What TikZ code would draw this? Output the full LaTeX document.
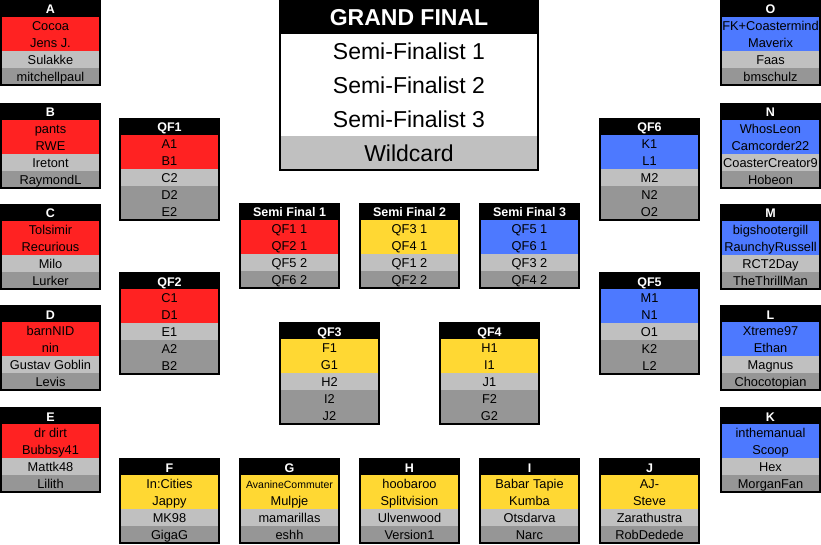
\documentclass[tikz,border=0pt]{standalone}
\usepackage{fontspec}
\setmainfont{Liberation Sans}
\usepackage{xcolor}

\definecolor{tred}{RGB}{255,34,34}
\definecolor{tyellow}{RGB}{255,216,51}
\definecolor{tblue}{RGB}{77,121,255}
\definecolor{lgrey}{RGB}{192,192,192}
\definecolor{dgrey}{RGB}{150,150,150}

\tikzset{
  boxline/.style={draw=black, line width=1.6pt},
  headtxt/.style={anchor=base, inner sep=0pt, text=white, font=\fontsize{12.5}{12.5}\selectfont\bfseries},
  rowtxt/.style={anchor=base, inner sep=0pt, text=black, font=\fontsize{12.8}{12.8}\selectfont},
  gftxt/.style={anchor=base, inner sep=0pt, font=\fontsize{23}{23}\selectfont}
}
\newcommand{\shrink}[1]{{\fontsize{10.5}{10.5}\selectfont #1}}

% group box: name, position, title, colour, four rows
\newcommand{\teambox}[8]{%
  \begin{scope}[shift={(#2)}]
    \fill[black] (0,0) rectangle (101,17);
    \fill[#4] (0,17) rectangle (101,51);
    \fill[lgrey] (0,51) rectangle (101,68);
    \fill[dgrey] (0,68) rectangle (101,85);
    \draw[boxline] (0.8,0.8) rectangle (100.2,85.2);
    \node[headtxt] (#1-h) at (50.5,14) {#3};
    \node[rowtxt] (#1-1) at (50.5,30.2) {#5};
    \node[rowtxt] (#1-2) at (50.5,47.2) {#6};
    \node[rowtxt] (#1-3) at (50.5,64.2) {#7};
    \node[rowtxt] (#1-4) at (50.5,81.2) {#8};
  \end{scope}}

% quarter final box: name, position, title, colour, five rows
\newcommand{\qfbox}[9]{%
  \begin{scope}[shift={(#2)}]
    \fill[black] (0,0) rectangle (101,17);
    \fill[#4] (0,17) rectangle (101,51);
    \fill[lgrey] (0,51) rectangle (101,68);
    \fill[dgrey] (0,68) rectangle (101,102);
    \draw[boxline] (0.8,0.8) rectangle (100.2,102.2);
    \node[headtxt] (#1-h) at (50.5,14) {#3};
    \node[rowtxt] (#1-1) at (50.5,30.2) {#5};
    \node[rowtxt] (#1-2) at (50.5,47.2) {#6};
    \node[rowtxt] (#1-3) at (50.5,64.2) {#7};
    \node[rowtxt] (#1-4) at (50.5,81.2) {#8};
    \node[rowtxt] (#1-5) at (50.5,98.2) {#9};
  \end{scope}}

\begin{document}
\begin{tikzpicture}[x=1pt, y=-1pt]
\useasboundingbox (0,0) rectangle (821,545);

% grand final
\fill[black] (279,0) rectangle (539,34);
\fill[white] (279,34) rectangle (539,136);
\fill[lgrey] (279,136) rectangle (539,170);
\draw[boxline] (279.8,0.8) rectangle (538.2,170.2);
\node[gftxt, text=white, font=\fontsize{23}{23}\selectfont\bfseries] (gf-h) at (409,25.5) {GRAND FINAL};
\node[gftxt] (gf-1) at (409,59.5) {Semi-Finalist 1};
\node[gftxt] (gf-2) at (409,93.5) {Semi-Finalist 2};
\node[gftxt] (gf-3) at (409,127.5) {Semi-Finalist 3};
\node[gftxt] (gf-4) at (409,161.5) {Wildcard};

% left column
\teambox{A}{0,0}{A}{tred}{Cocoa}{Jens J.}{Sulakke}{mitchellpaul}
\teambox{B}{0,103}{B}{tred}{pants}{RWE}{Iretont}{RaymondL}
\teambox{C}{0,204}{C}{tred}{Tolsimir}{Recurious}{Milo}{Lurker}
\teambox{D}{0,305}{D}{tred}{barnNID}{nin}{Gustav Goblin}{Levis}
\teambox{E}{0,407}{E}{tred}{dr dirt}{Bubbsy41}{Mattk48}{Lilith}

% bottom row
\teambox{F}{119,458}{F}{tyellow}{In:Cities}{Jappy}{MK98}{GigaG}
\teambox{G}{239,458}{G}{tyellow}{\shrink{AvanineCommuter}}{Mulpje}{mamarillas}{eshh}
\teambox{H}{359,458}{H}{tyellow}{hoobaroo}{Splitvision}{Ulvenwood}{Version1}
\teambox{I}{479,458}{I}{tyellow}{Babar Tapie}{Kumba}{Otsdarva}{Narc}
\teambox{J}{599,458}{J}{tyellow}{AJ-}{Steve}{Zarathustra}{RobDedede}

% right column
\teambox{O}{720,0}{O}{tblue}{FK+Coastermind}{Maverix}{Faas}{bmschulz}
\teambox{N}{720,103}{N}{tblue}{WhosLeon}{Camcorder22}{CoasterCreator9}{Hobeon}
\teambox{M}{720,204}{M}{tblue}{bigshootergill}{RaunchyRussell}{RCT2Day}{TheThrillMan}
\teambox{L}{720,305}{L}{tblue}{Xtreme97}{Ethan}{Magnus}{Chocotopian}
\teambox{K}{720,407}{K}{tblue}{inthemanual}{Scoop}{Hex}{MorganFan}

% quarter finals
\qfbox{qf1}{119,118}{QF1}{tred}{A1}{B1}{C2}{D2}{E2}
\qfbox{qf2}{119,272}{QF2}{tred}{C1}{D1}{E1}{A2}{B2}
\qfbox{qf3}{279,322}{QF3}{tyellow}{F1}{G1}{H2}{I2}{J2}
\qfbox{qf4}{439,322}{QF4}{tyellow}{H1}{I1}{J1}{F2}{G2}
\qfbox{qf5}{599,272}{QF5}{tblue}{M1}{N1}{O1}{K2}{L2}
\qfbox{qf6}{599,118}{QF6}{tblue}{K1}{L1}{M2}{N2}{O2}

% semi finals
\teambox{sf1}{239,203}{Semi Final 1}{tred}{QF1 1}{QF2 1}{QF5 2}{QF6 2}
\teambox{sf2}{359,203}{Semi Final 2}{tyellow}{QF3 1}{QF4 1}{QF1 2}{QF2 2}
\teambox{sf3}{479,203}{Semi Final 3}{tblue}{QF5 1}{QF6 1}{QF3 2}{QF4 2}
\end{tikzpicture}
\end{document}
